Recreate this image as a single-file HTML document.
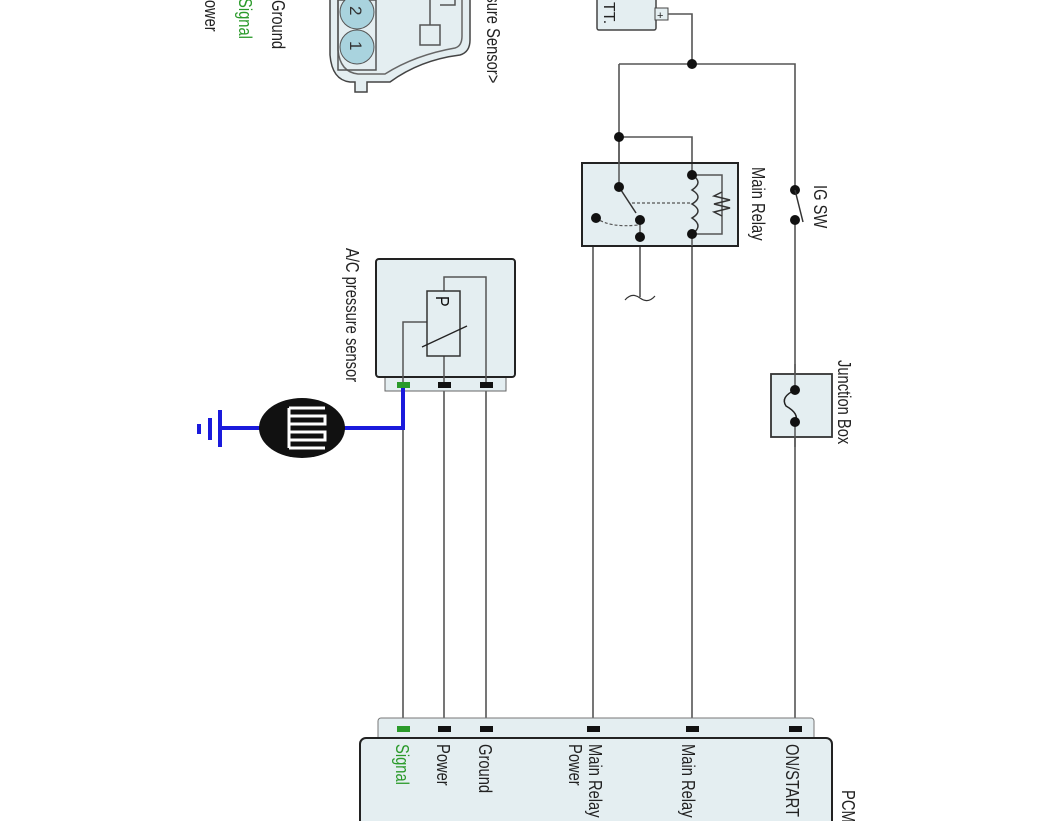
<!DOCTYPE html>
<html><head><style>
body{margin:0;background:#fff;}
svg{display:block;font-family:"Liberation Sans",sans-serif;}
</style></head><body>
<svg width="1062" height="821" viewBox="0 0 1062 821">
<g stroke="#555" stroke-width="1.5" fill="none">
<path d="M330 0 V55 Q332 80 350 82 H355 V92 H367 V82 H390 Q420 60 460 55 Q470 52 470 40 V0" fill="#e4eef1" stroke="#444"/>
<path d="M338 0 V50 Q340 72 358 74 H385 Q415 55 455 48 Q462 46 462 36 V0" stroke="#666"/>
<rect x="338" y="0" width="38" height="70" fill="none"/>
<rect x="420" y="25" width="20" height="20" fill="#e4eef1"/>
<path d="M430 25 V0 M440 5 H455 V0"/>
</g>
<circle cx="357" cy="12" r="17" fill="#a9d3de" stroke="#555"/>
<circle cx="357" cy="47" r="17" fill="#a9d3de" stroke="#555"/>
<text transform="translate(350,6) rotate(90)" font-size="17" fill="#333">2</text>
<text transform="translate(350,41) rotate(90)" font-size="17" fill="#333">1</text>
<g font-size="16">
<text transform="translate(272,0) rotate(90) scale(0.92,1.15)" fill="#222">Ground</text>
<text transform="translate(239,-2) rotate(90) scale(0.92,1.15)" fill="#2a9a2a">Signal</text>
<text transform="translate(205,-10) rotate(90) scale(0.92,1.15)" fill="#222">Power</text>
<text transform="translate(487,-12) rotate(90) scale(0.92,1.15)" fill="#222">ssure Sensor&gt;</text>
</g>

<rect x="597" y="-5" width="59" height="35" rx="2" fill="#e4eef1" stroke="#444" stroke-width="1.5"/>
<text transform="translate(604,2) rotate(90)" font-size="16" fill="#222">TT.</text>
<rect x="655" y="8" width="13" height="12" fill="#e4eef1" stroke="#444"/>
<text x="657" y="19" font-size="11" fill="#222">+</text>

<g stroke="#555" stroke-width="1.6" fill="none">
<path d="M668 14 H692 V64"/>
<path d="M619 64 H795 V190"/>
<path d="M619 64 V187"/>
<path d="M619 137 H692 V175"/>
<path d="M795 220 V730"/>
<path d="M692 234 V730"/>
<path d="M640 237 V297"/>
<path d="M640 237 H593 V730"/>
<path d="M403 385 V730 M444 385 V730 M486 385 V730"/>
</g>
<rect x="582" y="163" width="156" height="83" fill="#e4eef1" stroke="#222" stroke-width="2"/>
<g stroke="#555" stroke-width="1.5" fill="none">
<path d="M619 137 V187"/>
<path d="M692 164 V175 M692 234 V246"/>
<path d="M692 175 H722 V234 H692"/>
<path d="M722 192 L714 196 L730 200 L714 204 L730 208 L714 212 L722 216" stroke="#333"/>
<path d="M692 175 Q704 182 692 190 Q704 197 692 204 Q704 211 692 218 Q704 226 692 234" stroke="#333"/>
<path d="M640 220 V237"/>
</g>
<path d="M619 187 L636 213" stroke="#333" stroke-width="1.5"/>
<path d="M632 203 H690" stroke="#555" stroke-width="1.2" stroke-dasharray="3,2"/>
<path d="M596 218 Q610 228 638 225" stroke="#555" stroke-width="1.2" fill="none" stroke-dasharray="3,2"/>
<path d="M625 300 Q632 292 640 298 Q648 304 655 296" stroke="#333" fill="none" stroke-width="1.2"/>
<g fill="#111">
<circle cx="692" cy="64" r="5"/><circle cx="619" cy="137" r="5"/>
<circle cx="619" cy="187" r="5"/><circle cx="640" cy="220" r="5"/><circle cx="596" cy="218" r="5"/>
<circle cx="640" cy="237" r="5"/><circle cx="692" cy="175" r="5"/><circle cx="692" cy="234" r="5"/>
<circle cx="795" cy="190" r="5"/><circle cx="795" cy="220" r="5"/>
</g>
<path d="M795 190 L803 222" stroke="#333" stroke-width="1.5"/>
<text transform="translate(752,167) rotate(90) scale(0.92,1.15)" font-size="16" fill="#222">Main Relay</text>
<text transform="translate(814,185) rotate(90) scale(0.92,1.15)" font-size="16" fill="#222">IG SW</text>

<rect x="771" y="374" width="61" height="63" fill="#e4eef1" stroke="#333" stroke-width="1.8"/>
<path d="M795 364 V390 M795 422 V447" stroke="#555" stroke-width="1.5"/>
<path d="M795 390 Q780 397 786 406 Q800 414 795 422" stroke="#222" fill="none" stroke-width="1.5"/>
<circle cx="795" cy="390" r="5" fill="#111"/><circle cx="795" cy="422" r="5" fill="#111"/>
<text transform="translate(838,360) rotate(90) scale(0.92,1.15)" font-size="16" fill="#222">Junction Box</text>

<rect x="385" y="376" width="121" height="15" fill="#e4eef1" stroke="#666"/>
<rect x="376" y="259" width="139" height="118" rx="3" fill="#e4eef1" stroke="#222" stroke-width="2"/>
<g stroke="#555" stroke-width="1.5" fill="none">
<path d="M444 356 V385 M486 385 V277 H444 V291 M403 385 V322 H427"/>
</g>
<rect x="427" y="291" width="33" height="65" fill="#e4eef1" stroke="#333" stroke-width="1.5"/>
<path d="M422 347 L467 326" stroke="#222" stroke-width="1.3"/>
<text transform="translate(436,296) rotate(90) scale(1,1.15)" font-size="16" fill="#111">P</text>
<rect x="397" y="382" width="13" height="6" fill="#2a9a2a"/>
<rect x="438" y="382" width="13" height="6" fill="#111"/>
<rect x="480" y="382" width="13" height="6" fill="#111"/>
<text transform="translate(346,248) rotate(90) scale(0.92,1.15)" font-size="16" fill="#222">A/C pressure sensor</text>

<path d="M403 388 V428 H220" stroke="#1a1adc" stroke-width="4" fill="none"/>
<path d="M220 410 V447 M210 418 V440 M199 424 V434" stroke="#1a1adc" stroke-width="4"/>
<ellipse cx="302" cy="428" rx="43" ry="30" fill="#111"/>
<path d="M289 408 H325 M289 416 H325 V424 H289 M289 432 H325 V440 H289 M289 448 H325 M289 408 V448" stroke="#fff" stroke-width="3" fill="none"/>

<rect x="378" y="718" width="436" height="30" rx="3" fill="#e4eef1" stroke="#777"/>
<rect x="360" y="738" width="472" height="100" rx="6" fill="#e4eef1" stroke="#222" stroke-width="2"/>
<rect x="397" y="726" width="13" height="6" fill="#2a9a2a"/>
<rect x="438" y="726" width="13" height="6" fill="#111"/>
<rect x="480" y="726" width="13" height="6" fill="#111"/>
<rect x="587" y="726" width="13" height="6" fill="#111"/>
<rect x="686" y="726" width="13" height="6" fill="#111"/>
<rect x="789" y="726" width="13" height="6" fill="#111"/>
<g font-size="16" fill="#222">
<text transform="translate(396,744) rotate(90) scale(0.92,1.15)" fill="#2a9a2a">Signal</text>
<text transform="translate(437,744) rotate(90) scale(0.92,1.15)">Power</text>
<text transform="translate(479,744) rotate(90) scale(0.92,1.15)">Ground</text>
<text transform="translate(589,744) rotate(90) scale(0.92,1.15)">Main Relay</text>
<text transform="translate(569,744) rotate(90) scale(0.92,1.15)">Power</text>
<text transform="translate(682,744) rotate(90) scale(0.92,1.15)">Main Relay</text>
<text transform="translate(786,744) rotate(90) scale(0.92,1.15)">ON/START</text>
<text transform="translate(842,790) rotate(90) scale(0.92,1.15)">PCM</text>
</g>
</svg>
</body></html>
